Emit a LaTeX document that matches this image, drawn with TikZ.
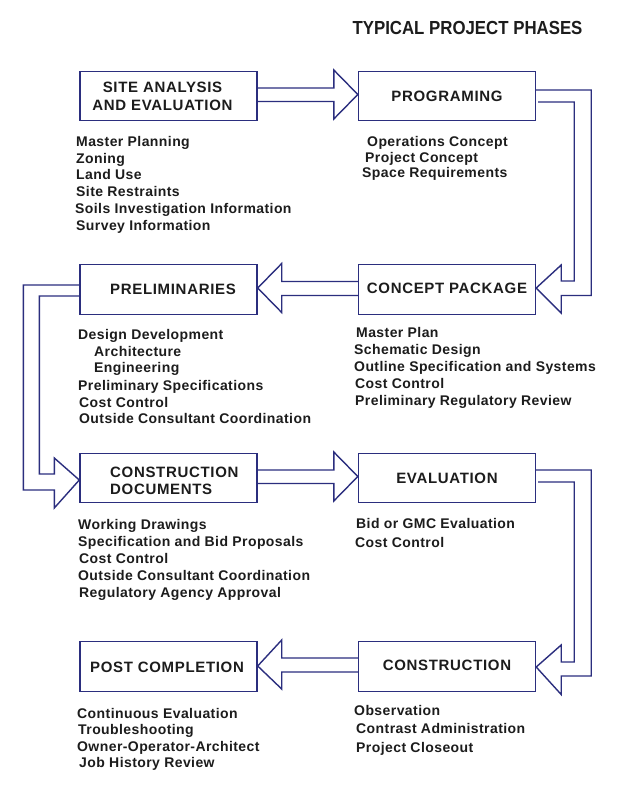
\documentclass[tikz,border=0pt]{standalone}
\usepackage{fontspec}
\setmainfont{Liberation Sans}
\newfontfamily\spacedfont[LetterSpace=4.5]{Liberation Sans}
\newfontfamily\itemfont[LetterSpace=3]{Liberation Sans}
\usetikzlibrary{calc}
\definecolor{navy}{RGB}{43,46,126}
\definecolor{ink}{RGB}{28,28,28}
\newcommand{\itm}[4]{\node[item] (#1) at (#2,#3) {#4};}
\newcommand{\lbl}[4]{\node[lbl] (#1) at (#2,#3) {#4};}
\tikzset{
  box/.style={draw=navy, line width=1.4pt, minimum width=177pt, minimum height=49.5pt, inner sep=0pt},
  conn/.style={draw=navy, line width=1.4pt, line join=miter},
  item/.style={anchor=west, inner sep=0pt, text height=10pt, text depth=0pt, text=ink,
    font=\itemfont\bfseries\fontsize{14}{16}\selectfont},
  lbl/.style={inner sep=0pt, text height=10.5pt, text depth=0pt, text=ink,
    font=\spacedfont\bfseries\fontsize{15}{18}\selectfont},
  ttl/.style={inner sep=0pt, text height=13.5pt, text depth=0pt, text=ink,
    font=\bfseries\fontsize{18.9}{22}\selectfont}
}
\begin{document}
\begin{tikzpicture}[x=1pt,y=-1pt]
\fill[white] (0,0) rectangle (618,800);
\useasboundingbox (0,0) rectangle (618,800);

\node[ttl] (title) at (467.5,28) {\scalebox{0.89}[1]{TYPICAL PROJECT PHASES}};

% boxes
\node[box] (site)    at (168.5,96)    {};
\node[box] (prog)    at (447,96)      {};
\node[box] (prelim)  at (168.5,289.5) {};
\node[box] (concept) at (447,289.5)   {};
\node[box] (cd)      at (168.5,478)   {};
\node[box] (eval)    at (447,478)     {};
\node[box] (post)    at (168.5,666.5) {};
\node[box] (constr)  at (447,666.5)   {};

% box labels
\lbl{site-a}{162.5}{87.5}{SITE ANALYSIS}
\lbl{site-b}{162.5}{105}{AND EVALUATION}
\lbl{prog-l}{447}{96}{PROGRAMING}
\lbl{prelim-l}{173}{289.5}{PRELIMINARIES}
\lbl{concept-l}{447}{288}{CONCEPT PACKAGE}
\node[lbl, anchor=west] (cd-a) at (110,472) {CONSTRUCTION};
\node[lbl, anchor=west] (cd-b) at (110,489.5) {DOCUMENTS};
\lbl{eval-l}{447}{478}{EVALUATION}
\lbl{post-l}{167}{667}{POST COMPLETION}
\lbl{constr-l}{447}{665.5}{CONSTRUCTION}

% straight arrows (right)
\draw[conn] ($(site.east)+(0,-8)$) -- ($(prog.west)+(-24,-8)$) -- ($(prog.west)+(-24,-26)$)
  -- ($(prog.west)+(0,-1.5)$) -- ($(prog.west)+(-24,23)$) -- ($(prog.west)+(-24,5.5)$)
  -- ($(site.east)+(0,5.5)$);
\draw[conn] ($(cd.east)+(0,-8)$) -- ($(eval.west)+(-24,-8)$) -- ($(eval.west)+(-24,-26)$)
  -- ($(eval.west)+(0,-1.5)$) -- ($(eval.west)+(-24,23)$) -- ($(eval.west)+(-24,5.5)$)
  -- ($(cd.east)+(0,5.5)$);
% straight arrows (left)
\draw[conn] ($(concept.west)+(0,-8)$) -- ($(prelim.east)+(24,-8)$) -- ($(prelim.east)+(24,-26)$)
  -- ($(prelim.east)+(0,-1.5)$) -- ($(prelim.east)+(24,23)$) -- ($(prelim.east)+(24,6)$)
  -- ($(concept.west)+(0,6)$);
\draw[conn] ($(constr.west)+(0,-8.5)$) -- ($(post.east)+(24,-8.5)$) -- ($(post.east)+(24,-26.5)$)
  -- ($(post.east)+(0,-0.5)$) -- ($(post.east)+(24,22.5)$) -- ($(post.east)+(24,5.5)$)
  -- ($(constr.west)+(0,5.5)$);

% bent connector: programing -> concept package
\draw[conn] ($(prog.east)+(0,-6)$) -- ($(prog.east)+(55,-6)$) |- ($(concept.east)+(25,6)$)
  -- ($(concept.east)+(25,23.5)$) -- ($(concept.east)+(0,-1.5)$) -- ($(concept.east)+(25,-24.5)$)
  -- ($(concept.east)+(25,-8.5)$) -| ($(prog.east)+(38,6)$) -- ($(prog.east)+(2,6)$);
% bent connector: evaluation -> construction
\draw[conn] ($(eval.east)+(0,-8)$) -- ($(eval.east)+(55,-8)$) |- ($(constr.east)+(25,9.5)$)
  -- ($(constr.east)+(25,28)$) -- ($(constr.east)+(0,0.5)$) -- ($(constr.east)+(25,-21.5)$)
  -- ($(constr.east)+(25,-4.5)$) -| ($(eval.east)+(38,4)$) -- ($(eval.east)+(2,4)$);
% bent connector: preliminaries -> construction documents
\draw[conn] ($(prelim.west)+(0,-4.5)$) -- ($(prelim.west)+(-56,-4.5)$) |- ($(cd.west)+(-25,12)$)
  -- ($(cd.west)+(-25,30)$) -- ($(cd.west)+(0,2)$) -- ($(cd.west)+(-25,-20)$)
  -- ($(cd.west)+(-25,-4)$) -| ($(prelim.west)+(-40,6.5)$) -- ($(prelim.west)+(0,6.5)$);

% items
\itm{s1}{76}{141}{Master Planning}
\itm{s2}{76}{158}{Zoning}
\itm{s3}{76}{174.5}{Land Use}
\itm{s4}{76}{191}{Site Restraints}
\itm{s5}{75}{208}{Soils Investigation Information}
\itm{s6}{76}{225.5}{Survey Information}

\itm{p1}{367}{141}{Operations Concept}
\itm{p2}{365}{157}{Project Concept}
\itm{p3}{362}{172.5}{Space Requirements}

\itm{c1}{356}{332}{Master Plan}
\itm{c2}{354}{349.5}{Schematic Design}
\itm{c3}{354}{366}{Outline Specification and Systems}
\itm{c4}{355}{383}{Cost Control}
\itm{c5}{355}{400}{Preliminary Regulatory Review}

\itm{r1}{78}{334}{Design Development}
\itm{r2}{94}{351}{Architecture}
\itm{r3}{94}{367.5}{Engineering}
\itm{r4}{78}{385}{Preliminary Specifications}
\itm{r5}{79}{402.5}{Cost Control}
\itm{r6}{79}{418.5}{Outside Consultant Coordination}

\itm{d1}{78}{524}{Working Drawings}
\itm{d2}{78}{541}{Specification and Bid Proposals}
\itm{d3}{79}{558}{Cost Control}
\itm{d4}{78}{575}{Outside Consultant Coordination}
\itm{d5}{79}{592}{Regulatory Agency Approval}

\itm{e1}{356}{523}{Bid or GMC Evaluation}
\itm{e2}{355}{542}{Cost Control}

\itm{k1}{354}{710}{Observation}
\itm{k2}{356}{728}{Contrast Administration}
\itm{k3}{356}{747}{Project Closeout}

\itm{q1}{77}{713}{Continuous Evaluation}
\itm{q2}{78}{729.5}{Troubleshooting}
\itm{q3}{77}{746}{Owner-Operator-Architect}
\itm{q4}{79}{762}{Job History Review}
\end{tikzpicture}
\end{document}
